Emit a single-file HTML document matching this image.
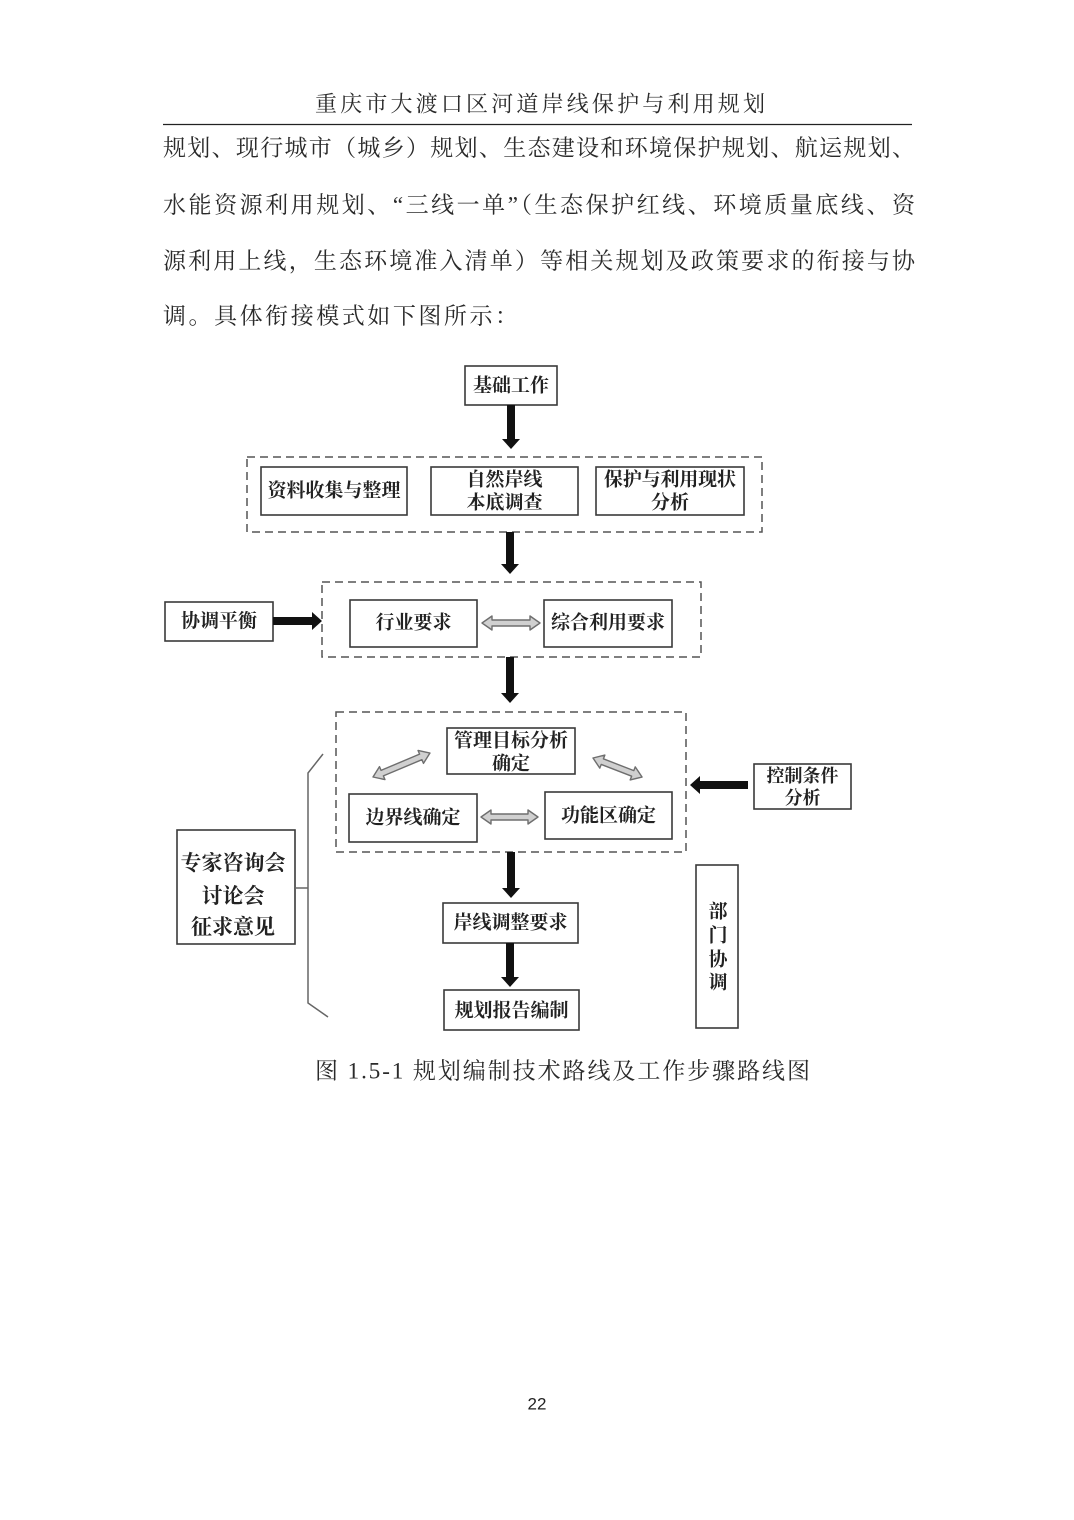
<!DOCTYPE html>
<html>
<head>
<meta charset="utf-8">
<style>
  html,body{margin:0;padding:0;background:#fff;}
  body{width:1074px;height:1520px;position:relative;overflow:hidden;}
  svg{position:absolute;left:0;top:0;}
  .body{font-family:"Liberation Serif","Noto Serif CJK SC",serif;font-size:23px;fill:#2a2a2a;}
  .bx{font-family:"Liberation Serif","Noto Serif CJK SC",serif;font-size:19px;font-weight:bold;fill:#222;}
  .box{fill:#fff;stroke:#3a3a3a;stroke-width:1.6;}
  .dash{fill:none;stroke:#555;stroke-width:1.5;stroke-dasharray:8 5;}
  .ga{fill:#d0d0d0;stroke:#6e6e6e;stroke-width:1.4;stroke-linejoin:round;}
</style>
</head>
<body>
<svg width="1074" height="1520" viewBox="0 0 1074 1520" xmlns="http://www.w3.org/2000/svg">
  <!-- Header -->
  <text class="body" x="315" y="104" dominant-baseline="central" textLength="450" lengthAdjust="spacing" style="font-size:22px">重庆市大渡口区河道岸线保护与利用规划</text>
  <line x1="163" y1="124.5" x2="912" y2="124.5" stroke="#222" stroke-width="1.2"/>

  <!-- Body paragraph -->
  <text class="body" x="163" y="148" dominant-baseline="central" textLength="752" lengthAdjust="spacing">规划、现行城市（城乡）规划、生态建设和环境保护规划、航运规划、</text>
  <text class="body" x="163" y="205" dominant-baseline="central" textLength="752" lengthAdjust="spacing">水能资源利用规划、“三线一单”（生态保护红线、环境质量底线、资</text>
  <text class="body" x="163" y="261" dominant-baseline="central" textLength="752" lengthAdjust="spacing">源利用上线，生态环境准入清单）等相关规划及政策要求的衔接与协</text>
  <text class="body" x="163" y="316" dominant-baseline="central" textLength="355" lengthAdjust="spacing">调。具体衔接模式如下图所示：</text>

  <!-- 基础工作 -->
  <rect class="box" x="465" y="366" width="92" height="39"/>
  <text class="bx" x="511" y="386" text-anchor="middle" dominant-baseline="central">基础工作</text>
  <polygon fill="#111" points="507,405 515,405 515,439 520,439 511,449 502,439 507,439"/>

  <!-- Dashed group 1 -->
  <rect class="dash" x="247" y="457" width="515" height="75"/>
  <rect class="box" x="261" y="467" width="146" height="48"/>
  <text class="bx" x="334" y="491" text-anchor="middle" dominant-baseline="central">资料收集与整理</text>
  <rect class="box" x="431" y="467" width="147" height="48"/>
  <text class="bx" x="504.5" y="480" text-anchor="middle" dominant-baseline="central">自然岸线</text>
  <text class="bx" x="504.5" y="503" text-anchor="middle" dominant-baseline="central">本底调查</text>
  <rect class="box" x="596" y="467" width="148" height="48"/>
  <text class="bx" x="604" y="480" dominant-baseline="central" textLength="132" lengthAdjust="spacing">保护与利用现状</text>
  <text class="bx" x="670" y="503" text-anchor="middle" dominant-baseline="central">分析</text>

  <polygon fill="#111" points="506,532 514,532 514,564 519,564 510,574 501,564 506,564"/>

  <!-- Dashed group 2 -->
  <rect class="dash" x="322" y="582" width="379" height="75"/>
  <rect class="box" x="350" y="600" width="127" height="47"/>
  <text class="bx" x="413.5" y="623" text-anchor="middle" dominant-baseline="central">行业要求</text>
  <rect class="box" x="544" y="600" width="128" height="47"/>
  <text class="bx" x="608" y="623" text-anchor="middle" dominant-baseline="central">综合利用要求</text>
  <g transform="translate(482,623)">
    <path class="ga" d="M0,0 L10,-7 L10,-3 L48,-3 L48,-7 L58,0 L48,7 L48,3 L10,3 L10,7 Z"/>
  </g>

  <!-- 协调平衡 -->
  <rect class="box" x="165" y="602" width="108" height="39"/>
  <text class="bx" x="219" y="621.5" text-anchor="middle" dominant-baseline="central">协调平衡</text>
  <polygon fill="#111" points="273,617 312,617 312,612 322,621 312,630 312,625 273,625"/>

  <polygon fill="#111" points="506,657 514,657 514,693 519,693 510,703 501,693 506,693"/>

  <!-- Dashed group 3 -->
  <rect class="dash" x="336" y="712" width="350" height="140"/>
  <rect class="box" x="447" y="728" width="128" height="46"/>
  <text class="bx" x="511" y="741" text-anchor="middle" dominant-baseline="central">管理目标分析</text>
  <text class="bx" x="511" y="764" text-anchor="middle" dominant-baseline="central">确定</text>
  <rect class="box" x="349" y="794" width="128" height="48"/>
  <text class="bx" x="413" y="818" text-anchor="middle" dominant-baseline="central">边界线确定</text>
  <rect class="box" x="545" y="792" width="127" height="47"/>
  <text class="bx" x="608.5" y="816" text-anchor="middle" dominant-baseline="central">功能区确定</text>
  <g transform="translate(481,817)">
    <path class="ga" d="M0,0 L10,-7 L10,-3 L47,-3 L47,-7 L57,0 L47,7 L47,3 L10,3 L10,7 Z"/>
  </g>
  <g transform="translate(373,777) rotate(-22.8)">
    <path class="ga" d="M0,0 L10,-7 L10,-3 L51.8,-3 L51.8,-7 L61.8,0 L51.8,7 L51.8,3 L10,3 L10,7 Z"/>
  </g>
  <g transform="translate(593,758) rotate(21.2)">
    <path class="ga" d="M0,0 L10,-7 L10,-3 L42.6,-3 L42.6,-7 L52.6,0 L42.6,7 L42.6,3 L10,3 L10,7 Z"/>
  </g>

  <!-- 控制条件分析 -->
  <rect class="box" x="754" y="764" width="97" height="45"/>
  <text class="bx" x="802.5" y="776" text-anchor="middle" dominant-baseline="central" style="font-size:18px">控制条件</text>
  <text class="bx" x="802.5" y="798" text-anchor="middle" dominant-baseline="central" style="font-size:18px">分析</text>
  <polygon fill="#111" points="748,781 700,781 700,776 690,785 700,794 700,789 748,789"/>

  <!-- Arrow to 岸线调整要求 -->
  <polygon fill="#111" points="507,852 515,852 515,888 520,888 511,898 502,888 507,888"/>
  <rect class="box" x="443" y="903" width="135" height="40"/>
  <text class="bx" x="510.5" y="923" text-anchor="middle" dominant-baseline="central">岸线调整要求</text>
  <polygon fill="#111" points="506,943 514,943 514,977 519,977 510,987 501,977 506,977"/>
  <rect class="box" x="444" y="990" width="135" height="40"/>
  <text class="bx" x="511.5" y="1011" text-anchor="middle" dominant-baseline="central">规划报告编制</text>

  <!-- 部门协调 -->
  <rect class="box" x="696" y="865" width="42" height="163"/>
  <text class="bx" x="718" y="912" text-anchor="middle" dominant-baseline="central">部</text>
  <text class="bx" x="718" y="936" text-anchor="middle" dominant-baseline="central">门</text>
  <text class="bx" x="718" y="960" text-anchor="middle" dominant-baseline="central">协</text>
  <text class="bx" x="718" y="983" text-anchor="middle" dominant-baseline="central">调</text>

  <!-- 专家咨询会 + bracket -->
  <rect class="box" x="177" y="830" width="118" height="114"/>
  <text class="bx" x="233" y="863" text-anchor="middle" dominant-baseline="central" style="font-size:21px">专家咨询会</text>
  <text class="bx" x="233" y="896" text-anchor="middle" dominant-baseline="central" style="font-size:21px">讨论会</text>
  <text class="bx" x="233" y="927" text-anchor="middle" dominant-baseline="central" style="font-size:21px">征求意见</text>
  <path d="M323,754 L308,773 L308,1003 L328,1017" fill="none" stroke="#666" stroke-width="1.5"/>
  <line x1="295" y1="888" x2="308" y2="888" stroke="#666" stroke-width="1.5"/>

  <!-- Caption -->
  <text class="body" x="315" y="1071" dominant-baseline="central" textLength="495" lengthAdjust="spacing">图 1.5-1  规划编制技术路线及工作步骤路线图</text>

  <!-- Page number -->
  <text x="537" y="1404" text-anchor="middle" dominant-baseline="central" style="font-family:'Liberation Sans','DejaVu Sans',sans-serif;font-size:17px;fill:#222">22</text>
</svg>
</body>
</html>
